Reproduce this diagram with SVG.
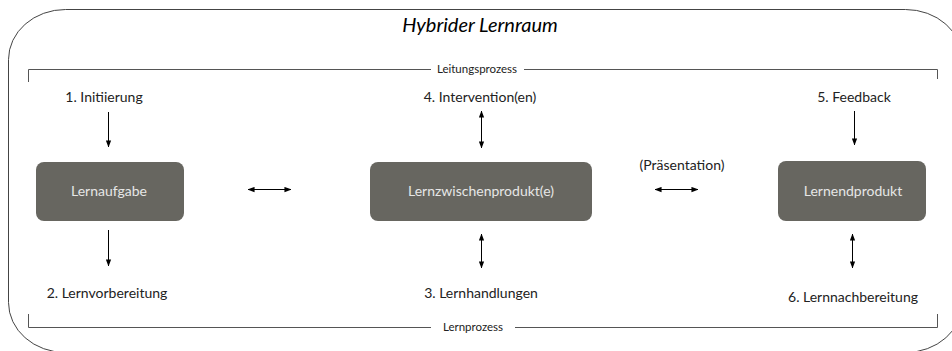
<svg xmlns="http://www.w3.org/2000/svg" width="952" height="351" viewBox="0 0 952 351">
<defs>
<marker id="ah" viewBox="0 0 8 6" refX="7.5" refY="3" markerWidth="7" markerHeight="6" markerUnits="userSpaceOnUse" orient="auto-start-reverse">
<path d="M0,0 L8,3 L0,6 z" fill="#000"/>
</marker>
<style>
.lbl{font-family:Lato,"Liberation Sans",sans-serif;font-size:14px;fill:#222;text-anchor:middle}
.small{font-family:Lato,"Liberation Sans",sans-serif;font-size:11.5px;fill:#222;text-anchor:middle}
.title{font-family:Lato,"Liberation Sans",sans-serif;font-size:20px;font-style:italic;fill:#000;text-anchor:middle}
.box{fill:#676660}
.boxt{font-family:Lato,"Liberation Sans",sans-serif;font-size:14px;fill:#e6e6e6;text-anchor:middle}
.frame{fill:none;stroke:#444;stroke-width:1}
.br{fill:none;stroke:#555;stroke-width:1}
.arr{fill:none;stroke:#000;stroke-width:1}
</style>
</defs>
<rect width="952" height="351" fill="#fff"/>
<g id="frame">
<rect class="frame" x="8.5" y="9.5" width="954" height="343" rx="57" ry="50"/>
<text class="title" x="480" y="32">Hybrider Lernraum</text>
</g>
<g id="leitungsprozess">
<path class="br" d="M28.5,82 V69.5 H431 M524,69.5 H937.5 V79"/>
<text class="small" x="477" y="73">Leitungsprozess</text>
</g>
<g id="lernprozess">
<path class="br" d="M28.5,314 V327.5 H431 M515,327.5 H937.5 V314"/>
<text class="small" x="473" y="331">Lernprozess</text>
</g>
<g id="lernaufgabe">
<rect class="box" x="36" y="162" width="148" height="59" rx="8"/>
<text class="boxt" x="109" y="196">Lernaufgabe</text>
</g>
<g id="lernzwischenprodukt">
<rect class="box" x="370" y="162" width="222" height="59" rx="8"/>
<text class="boxt" x="481" y="196">Lernzwischenprodukt(e)</text>
</g>
<g id="lernendprodukt">
<rect class="box" x="778" y="161" width="148" height="60" rx="8"/>
<text class="boxt" x="853" y="196">Lernendprodukt</text>
</g>
<g id="labels">
<text class="lbl" x="104" y="102">1. Initiierung</text>
<text class="lbl" x="107" y="298">2. Lernvorbereitung</text>
<text class="lbl" x="481" y="298">3. Lernhandlungen</text>
<text class="lbl" x="480" y="102">4. Intervention(en)</text>
<text class="lbl" x="854" y="102">5. Feedback</text>
<text class="lbl" x="853" y="302">6. Lernnachbereitung</text>
<text class="lbl" x="682" y="170">(Präsentation)</text>
</g>
<g id="connectors">
<line class="arr" x1="108.5" y1="112" x2="108.5" y2="147" marker-end="url(#ah)"/>
<line class="arr" x1="108.5" y1="230" x2="108.5" y2="266" marker-end="url(#ah)"/>
<line class="arr" x1="248" y1="189.5" x2="291" y2="189.5" marker-start="url(#ah)" marker-end="url(#ah)"/>
<line class="arr" x1="481.5" y1="111" x2="481.5" y2="148" marker-start="url(#ah)" marker-end="url(#ah)"/>
<line class="arr" x1="481.5" y1="234" x2="481.5" y2="268" marker-start="url(#ah)" marker-end="url(#ah)"/>
<line class="arr" x1="655" y1="189.5" x2="698" y2="189.5" marker-start="url(#ah)" marker-end="url(#ah)"/>
<line class="arr" x1="854.5" y1="111" x2="854.5" y2="145" marker-end="url(#ah)"/>
<line class="arr" x1="852.5" y1="234" x2="852.5" y2="268" marker-start="url(#ah)" marker-end="url(#ah)"/>
</g>
</svg>
